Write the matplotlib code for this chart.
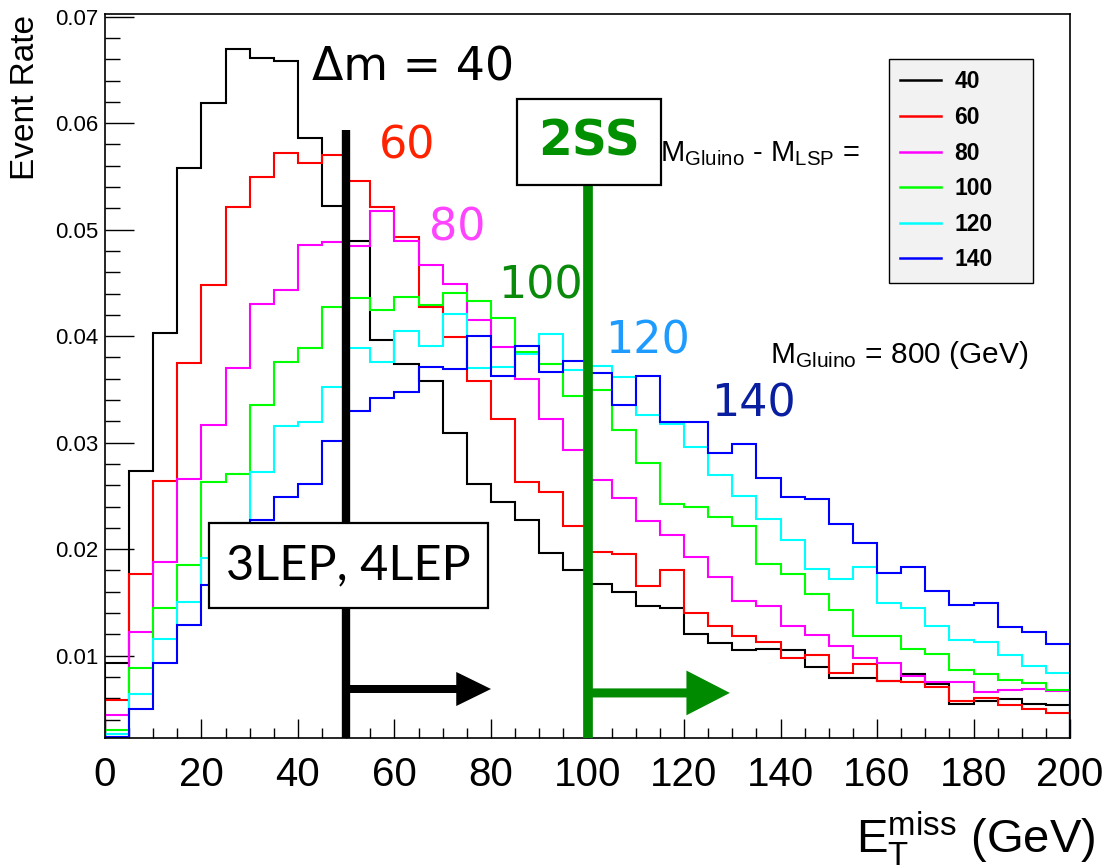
import numpy as np
import matplotlib
matplotlib.use("Agg")
import matplotlib.pyplot as plt
from matplotlib.patches import Rectangle

# bin edges: 40 bins of 5 GeV
bin_width = 5
n_bins = 40

dm_labels = ["40", "60", "80", "100", "120", "140"]
hist_colors = ["#000000", "#ff0000", "#ff00ff", "#00ff00", "#00ffff", "#0000ff"]

rate_40 = [0.0093, 0.0273, 0.0403, 0.0558, 0.0619, 0.0670, 0.0661, 0.0658, 0.0586, 0.0522,
           0.0489, 0.0396, 0.0374, 0.0358, 0.0309, 0.0261, 0.0244, 0.0227, 0.0196, 0.0180,
           0.0167, 0.0160, 0.0147, 0.0145, 0.0120, 0.0112, 0.0105, 0.0106, 0.0105, 0.0089,
           0.0079, 0.0079, 0.0076, 0.0083, 0.0073, 0.0055, 0.0057, 0.0059, 0.0055, 0.0054]
rate_60 = [0.0058, 0.0177, 0.0264, 0.0375, 0.0448, 0.0521, 0.0549, 0.0572, 0.0563, 0.0570,
           0.0546, 0.0521, 0.0493, 0.0427, 0.0399, 0.0358, 0.0322, 0.0263, 0.0254, 0.0222,
           0.0197, 0.0195, 0.0165, 0.0180, 0.0140, 0.0128, 0.0118, 0.0113, 0.0098, 0.0101,
           0.0084, 0.0092, 0.0076, 0.0075, 0.0071, 0.0057, 0.0060, 0.0054, 0.0050, 0.0046]
rate_80 = [0.0044, 0.0122, 0.0188, 0.0266, 0.0317, 0.0370, 0.0430, 0.0443, 0.0486, 0.0488,
           0.0485, 0.0518, 0.0489, 0.0467, 0.0449, 0.0415, 0.0390, 0.0360, 0.0322, 0.0293,
           0.0265, 0.0248, 0.0226, 0.0213, 0.0193, 0.0174, 0.0151, 0.0147, 0.0128, 0.0119,
           0.0109, 0.0098, 0.0093, 0.0081, 0.0075, 0.0075, 0.0066, 0.0068, 0.0069, 0.0067]
rate_100 = [0.0030, 0.0088, 0.0145, 0.0185, 0.0263, 0.0271, 0.0335, 0.0376, 0.0389, 0.0427,
            0.0436, 0.0425, 0.0437, 0.0429, 0.0441, 0.0433, 0.0417, 0.0385, 0.0374, 0.0344,
            0.0349, 0.0312, 0.0281, 0.0242, 0.0240, 0.0230, 0.0222, 0.0186, 0.0177, 0.0158,
            0.0143, 0.0118, 0.0118, 0.0106, 0.0102, 0.0087, 0.0083, 0.0077, 0.0074, 0.0068]
rate_120 = [0.0026, 0.0064, 0.0116, 0.0150, 0.0192, 0.0225, 0.0272, 0.0316, 0.0319, 0.0352,
            0.0389, 0.0376, 0.0405, 0.0391, 0.0421, 0.0370, 0.0371, 0.0383, 0.0402, 0.0368,
            0.0372, 0.0362, 0.0326, 0.0318, 0.0296, 0.0270, 0.0250, 0.0228, 0.0209, 0.0181,
            0.0172, 0.0183, 0.0149, 0.0145, 0.0128, 0.0115, 0.0113, 0.0101, 0.0090, 0.0084]
rate_140 = [0.0024, 0.0050, 0.0093, 0.0129, 0.0166, 0.0195, 0.0227, 0.0249, 0.0261, 0.0302,
            0.0330, 0.0342, 0.0348, 0.0371, 0.0369, 0.0400, 0.0363, 0.0391, 0.0366, 0.0377,
            0.0365, 0.0335, 0.0363, 0.0319, 0.0319, 0.0290, 0.0299, 0.0267, 0.0249, 0.0247,
            0.0224, 0.0206, 0.0178, 0.0183, 0.0161, 0.0148, 0.0149, 0.0127, 0.0122, 0.0111]

rates = [rate_40, rate_60, rate_80, rate_100, rate_120, rate_140]

# cut lines (GeV)
cut_3lep = 50
cut_2ss = 100

plt.rcParams["font.family"] = ["Liberation Sans", "DejaVu Sans"]
plt.rcParams["mathtext.fontset"] = "custom"
plt.rcParams["mathtext.rm"] = "Liberation Sans"
plt.rcParams["mathtext.it"] = "Liberation Sans"

fig = plt.figure(figsize=(11.06, 8.66), dpi=100)
ax = fig.add_axes([0.0949, 0.1482, 0.8726, 0.8356])

edges = np.arange(n_bins + 1) * bin_width
for vals, col, lab in zip(rates, hist_colors, dm_labels):
    ax.stairs(vals, edges, color=col, lw=1.5, label=lab, zorder=2)

ax.set_xlim(0, 200)
ax.set_ylim(0.0023, 0.07025)

ax.set_xticks(np.arange(0, 201, 20))
ax.set_xticks(np.arange(0, 201, 5), minor=True)
ax.set_yticks(np.arange(0.01, 0.0701, 0.01))
ax.set_yticks(np.arange(0.004, 0.0702, 0.002), minor=True)
ax.set_yticklabels([f"{v:.2f}" for v in np.arange(0.01, 0.0701, 0.01)])
ax.tick_params(axis="x", which="major", direction="in", length=14, width=1, labelsize=29, pad=13)
ax.tick_params(axis="x", which="minor", direction="in", length=7, width=1)
ax.tick_params(axis="y", which="major", direction="in", length=21, width=1, labelsize=16, pad=5)
ax.tick_params(axis="y", which="minor", direction="in", length=11, width=1)
for s in ax.spines.values():
    s.set_linewidth(1.2)

# cut lines and arrows
ax.plot([cut_3lep, cut_3lep], [0.0023, 0.0594], color="black", lw=6, solid_capstyle="butt", zorder=3)
ax.plot([cut_2ss, cut_2ss], [0.0023, 0.0542], color="#008a00", lw=7, solid_capstyle="butt", zorder=3)
ax.arrow(cut_3lep, 0.00687, 30, 0, width=0.00075, head_width=0.0032, head_length=7.2,
         length_includes_head=True, color="black", lw=0, zorder=3)
ax.arrow(cut_2ss, 0.0065, 29.5, 0, width=0.00085, head_width=0.0042, head_length=9.0,
         length_includes_head=True, color="#008a00", lw=0, zorder=3)

# boxes
ax.add_patch(Rectangle((85.4, 0.0542), 29.8, 0.0081, facecolor="white", edgecolor="black", lw=1.6, zorder=4))
ax.text(100.3, 0.0583, "2SS", family="DejaVu Sans", weight="bold", fontsize=35, color="#009000",
        ha="center", va="center", zorder=5)
ax.add_patch(Rectangle((21.6, 0.01445), 57.7, 0.00804, facecolor="white", edgecolor="black", lw=1.6, zorder=4))
ax.text(50.4, 0.0185, "3LEP, 4LEP", family=["Lato", "DejaVu Sans"], fontsize=35, color="black",
        ha="center", va="center", zorder=5)

# delta-m labels
ax.text(63.8, 0.0652, "Δm = 40", family="DejaVu Sans", fontsize=33, color="black", ha="center", va="center", zorder=5)
ax.text(62.6, 0.0579, "60", family="DejaVu Sans", fontsize=32, color="#ff2200", ha="center", va="center", zorder=5)
ax.text(73.0, 0.0502, "80", family="DejaVu Sans", fontsize=32, color="#ff44ff", ha="center", va="center", zorder=5)
ax.text(90.2, 0.0447, "100", family="DejaVu Sans", fontsize=32, color="#0a8a0a", ha="center", va="center", zorder=5)
ax.text(112.5, 0.0395, "120", family="DejaVu Sans", fontsize=32, color="#1e9bff", ha="center", va="center", zorder=5)
ax.text(134.5, 0.0336, "140", family="DejaVu Sans", fontsize=32, color="#0a1f9f", ha="center", va="center", zorder=5)

ax.text(115.0, 0.0564, r"$\mathregular{M_{Gluino}}$ - $\mathregular{M_{LSP}}$ =", fontsize=21,
        ha="left", va="baseline", zorder=5)
ax.text(137.8, 0.0375, r"$\mathregular{M_{Gluino}}$ = 800 (GeV)", fontsize=21.5,
        ha="left", va="baseline", zorder=5)

leg = ax.legend(loc="upper left", bbox_to_anchor=(889 / 1106, 1 - 285 / 866, 144 / 1106, 226 / 866),
                bbox_transform=fig.transFigure, mode="expand",
                borderaxespad=0, frameon=True, fancybox=False, framealpha=1, facecolor="#f2f2f2",
                edgecolor="black", prop={"weight": "bold", "size": 16.5}, handlelength=1.75,
                handletextpad=0.6, labelspacing=0.55, borderpad=0.5)
leg.get_frame().set_linewidth(1.0)
for h in leg.get_lines():
    h.set_linewidth(1.8)

fig.text(25.5 / 1106, 1 - 15 / 866, "Event Rate", rotation=90, fontsize=24, ha="center", va="top")
fig.text(1095 / 1106, 13 / 866, r"$\mathregular{E_{T}^{miss}}$ (GeV)", fontsize=34, ha="right", va="baseline")

fig.savefig("out.png", dpi=100)
